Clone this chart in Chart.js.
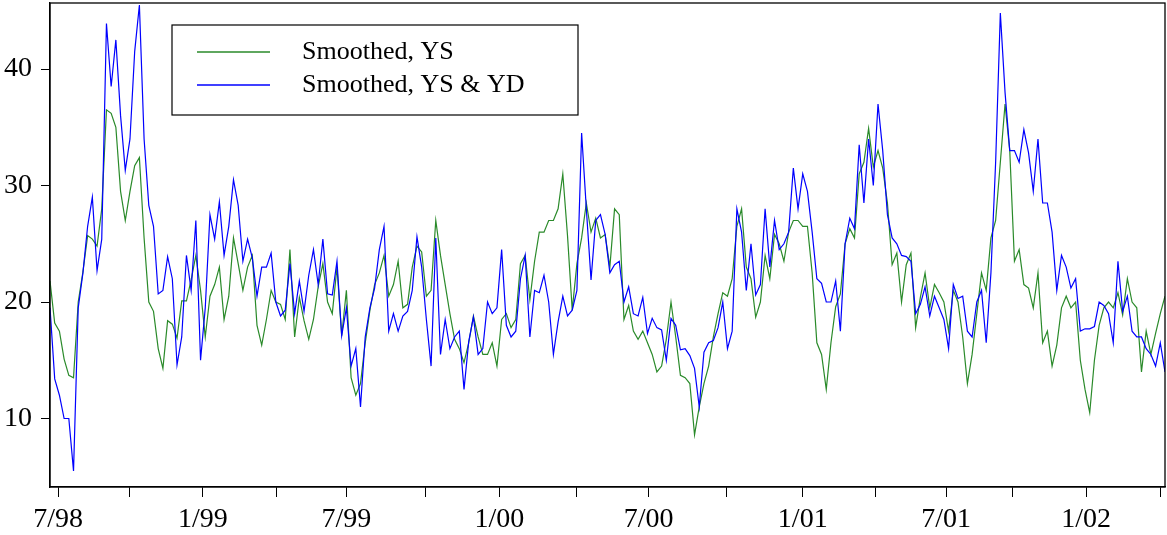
<!DOCTYPE html>
<html>
<head>
<meta charset="utf-8">
<script src="https://cdn.jsdelivr.net/npm/chart.js@4.4.1/dist/chart.umd.min.js"></script>
<style>
  body { margin: 0; background: #fff; }
  #wrap { width: 1167px; height: 535px; }
</style>
</head>
<body>
<div id="wrap"><canvas id="chart-vol"></canvas></div>
<script>
// one reading every 4 trading days, from late 6/98 to early 4/02
var step = 4;

var ys = [
  21.8, 18.2, 17.5, 15.1, 13.7, 13.5, 20.0, 22.6, 25.7, 25.4,
  24.8, 28.0, 36.5, 36.2, 35.0, 29.5, 27.0, 29.5, 31.7, 32.4,
  25.5, 20.0, 19.2, 16.0, 14.3, 18.4, 18.1, 16.9, 20.1, 20.1,
  21.9, 24.0, 21.0, 17.0, 20.5, 21.5, 23.0, 18.5, 20.5, 25.5,
  23.3, 21.0, 23.0, 24.0, 18.0, 16.3, 18.5, 21.0, 20.0, 19.8,
  18.5, 24.5, 17.0, 20.4, 18.4, 16.8, 18.5, 21.3, 23.3, 20.0,
  19.0, 23.0, 17.1, 21.0, 13.5, 12.0, 13.0, 16.5, 19.3, 21.5,
  22.5, 24.0, 20.5, 21.5, 23.5, 19.5, 19.8, 23.0, 24.8, 24.3,
  20.5, 21.0, 27.0, 24.0, 21.5, 19.0, 16.8, 16.0, 14.8, 16.5,
  18.8, 17.0, 15.5, 15.5, 16.5, 14.5, 18.5, 19.0, 17.8, 18.5,
  23.3, 24.0, 20.2, 23.5, 26.0, 26.0, 27.0, 27.0, 28.0, 31.0,
  25.7, 19.3, 23.3, 25.5, 28.5, 26.0, 27.2, 25.5, 25.8, 23.0,
  28.0, 27.5, 18.5, 19.7, 17.5, 16.8, 17.5, 16.5, 15.5, 14.0,
  14.5, 16.8, 20.0, 17.0, 13.7, 13.5, 13.0, 8.6, 11.0, 13.0,
  14.5, 17.0, 19.0, 20.8, 20.5, 22.0, 26.5, 28.0, 23.0, 22.0,
  18.7, 20.0, 24.0, 22.0, 25.8, 25.0, 23.5, 26.0, 27.0, 27.0,
  26.5, 26.5, 22.5, 16.5, 15.5, 12.5, 16.5, 19.6, 20.7, 25.0,
  26.3, 25.5, 31.0, 32.0, 34.9, 31.6, 33.0, 31.5, 28.5, 23.2,
  24.2, 20.0, 23.2, 24.2, 17.8, 20.4, 22.5, 19.5, 21.5, 20.8,
  20.0, 17.5, 21.0, 20.0, 17.0, 13.0, 15.5, 19.0, 22.5, 21.0,
  25.5, 27.0, 32.0, 37.0, 33.0, 23.5, 24.5, 21.5, 21.2, 19.5,
  22.5, 16.5, 17.5, 14.5, 16.3, 19.5, 20.5, 19.5, 20.0, 15.0,
  12.5, 10.5, 15.0, 18.0, 19.5, 20.0, 19.5, 20.8, 18.9, 22.0,
  20.0, 19.5, 14.0, 17.5, 15.5, 17.3, 19.0, 20.5
];

var ysyd = [
  19.5, 13.4, 12.0, 10.0, 10.0, 5.5, 19.5, 22.5, 26.5, 29.0,
  22.7, 25.4, 43.9, 38.5, 42.5, 36.0, 31.3, 34.0, 41.5, 45.5,
  34.0, 28.3, 26.5, 20.7, 21.0, 23.9, 22.0, 14.6, 17.0, 24.0,
  21.0, 27.0, 15.0, 19.5, 27.5, 25.4, 28.6, 24.0, 26.5, 30.5,
  28.3, 23.5, 25.4, 23.8, 20.5, 23.0, 23.0, 24.2, 20.0, 18.8,
  19.3, 23.3, 19.0, 21.8, 19.2, 22.3, 24.5, 21.5, 25.4, 20.7,
  20.6, 23.5, 17.1, 19.5, 14.5, 16.0, 11.0, 17.0, 19.5, 21.2,
  24.5, 26.5, 17.5, 19.0, 17.5, 18.8, 19.2, 21.0, 25.6, 23.0,
  18.5, 14.5, 25.5, 15.5, 18.5, 16.0, 17.0, 17.5, 12.5, 16.6,
  18.7, 15.5, 16.0, 20.0, 19.0, 19.5, 24.5, 18.0, 17.0, 17.5,
  22.0, 24.0, 17.0, 21.0, 20.8, 22.3, 20.0, 15.5, 18.3, 20.5,
  18.8, 19.3, 21.0, 34.5, 28.0, 21.9, 27.0, 27.5, 25.8, 22.5,
  23.2, 23.5, 20.0, 21.3, 19.0, 18.8, 20.4, 17.3, 18.6, 17.8,
  17.6, 15.0, 18.6, 18.0, 15.9, 16.0, 15.4, 14.3, 11.0, 15.7,
  16.5, 16.7, 17.8, 20.0, 16.0, 17.5, 28.0, 26.0, 21.0, 25.0,
  20.6, 21.5, 28.0, 23.0, 27.0, 24.5, 25.0, 26.0, 31.5, 28.0,
  31.0, 29.5, 26.0, 22.0, 21.6, 20.0, 20.0, 21.8, 17.5, 25.0,
  27.2, 26.3, 33.5, 28.5, 34.0, 30.0, 37.0, 33.0, 27.5, 25.5,
  25.0, 24.0, 23.9, 23.5, 19.0, 19.8, 21.3, 18.8, 20.5, 19.5,
  18.5, 16.0, 21.5, 20.3, 20.5, 17.5, 17.0, 20.0, 21.0, 16.5,
  22.5, 32.0, 44.8, 38.0, 33.0, 33.0, 32.0, 34.8, 32.8, 29.5,
  34.0, 28.5, 28.5, 26.0, 21.0, 24.0, 23.0, 21.2, 22.0, 17.5,
  17.7, 17.7, 17.9, 20.0, 19.7, 19.0, 16.5, 23.5, 19.2, 20.5,
  17.5, 17.0, 17.0, 16.0, 15.5, 14.5, 16.5, 14.0
];

// quarter starts, in trading days from the first reading
var tickDays = [7, 68, 130, 193, 252, 319, 382, 448, 509, 575, 640, 702, 762, 818, 881, 944];
var tickLabels = ['7/98', '', '1/99', '', '7/99', '', '1/00', '', '7/00', '', '1/01', '', '7/01', '', '1/02', ''];
var yTicks = [10, 20, 30, 40];

function toPoints(arr) {
  return arr.map(function (v, i) { return { x: i * step, y: v }; });
}

var serif = "'Liberation Serif', 'Times New Roman', serif";

function noOverhang(scale) {
  scale.paddingTop = 0;
  scale.paddingBottom = 0;
  scale.paddingLeft = 0;
  scale.paddingRight = 0;
}

var frameAndLegend = {
  id: 'frameAndLegend',
  afterDraw: function (chart) {
    var ctx = chart.ctx;
    var a = chart.chartArea;
    ctx.save();
    ctx.strokeStyle = '#000';
    ctx.lineWidth = 1.3;
    ctx.strokeRect(a.left, a.top, a.right - a.left, a.bottom - a.top);

    // boxed legend, upper left
    ctx.fillStyle = '#fff';
    ctx.fillRect(172, 25, 406, 90);
    ctx.lineWidth = 1.2;
    ctx.strokeRect(172, 25, 406, 90);
    ctx.font = '26px ' + serif;
    ctx.textBaseline = 'middle';
    chart.data.datasets.forEach(function (ds, k) {
      var y = 52 + k * 33;
      ctx.strokeStyle = ds.borderColor;
      ctx.lineWidth = 1.5;
      ctx.beginPath();
      ctx.moveTo(197, y);
      ctx.lineTo(270, y);
      ctx.stroke();
      ctx.fillStyle = '#000';
      ctx.fillText(ds.label, 302, y);
    });
    ctx.restore();
  }
};

var ctx = document.getElementById('chart-vol').getContext('2d');
new Chart(ctx, {
  type: 'line',
  data: {
    datasets: [{
      label: 'Smoothed, YS',
      data: toPoints(ys),
      borderColor: '#2a8a2a',
      borderWidth: 1.2,
      pointRadius: 0,
      tension: 0,
      fill: false,
      order: 1
    }, {
      label: 'Smoothed, YS & YD',
      data: toPoints(ysyd),
      borderColor: '#0000ff',
      borderWidth: 1.2,
      pointRadius: 0,
      tension: 0,
      fill: false,
      order: 0
    }]
  },
  options: {
    responsive: true,
    maintainAspectRatio: false,
    animation: false,
    layout: { padding: { left: 0, right: 2, top: 3, bottom: 0 } },
    plugins: {
      legend: { display: false },
      tooltip: { enabled: false }
    },
    scales: {
      x: {
        type: 'linear',
        min: 0,
        max: 948,
        afterBuildTicks: function (scale) {
          scale.ticks = tickDays.map(function (d) { return { value: d }; });
        },
        afterFit: function (scale) { scale.height = 48; noOverhang(scale); },
        grid: {
          drawOnChartArea: false,
          drawTicks: true,
          tickLength: 10,
          color: '#000',
          lineWidth: 1
        },
        border: { display: true, color: '#000', width: 1.3 },
        ticks: {
          autoSkip: false,
          maxRotation: 0,
          padding: 6,
          color: '#000',
          font: { size: 28, family: serif },
          callback: function (value, index) { return tickLabels[index]; }
        }
      },
      y: {
        min: 4.12,
        max: 45.67,
        afterBuildTicks: function (scale) {
          scale.ticks = yTicks.map(function (v) { return { value: v }; });
        },
        afterFit: function (scale) { scale.width = 50; noOverhang(scale); },
        grid: {
          drawOnChartArea: false,
          drawTicks: true,
          tickLength: 9,
          color: '#000',
          lineWidth: 1
        },
        border: { display: true, color: '#000', width: 1.3 },
        ticks: {
          padding: 9,
          color: '#000',
          font: { size: 28, family: serif }
        }
      }
    }
  },
  plugins: [frameAndLegend]
});
</script>
</body>
</html>
